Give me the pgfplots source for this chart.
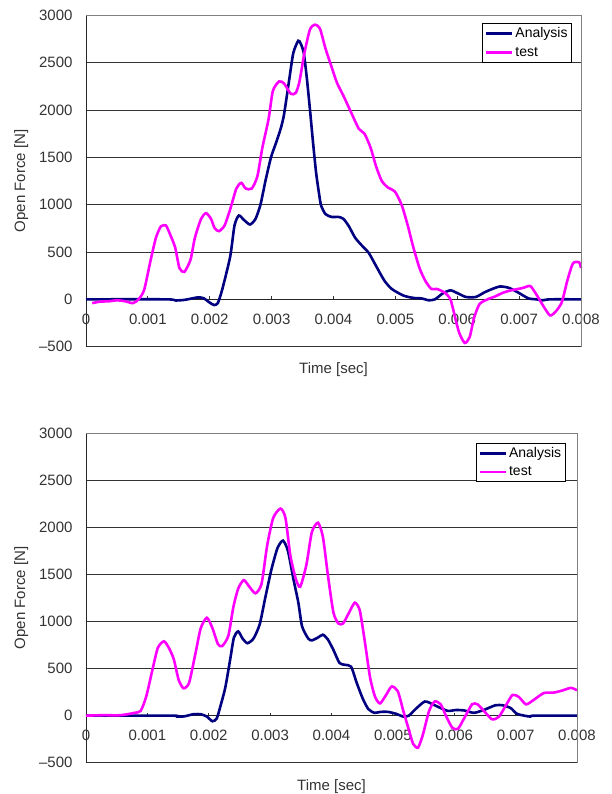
\documentclass[border=0pt]{standalone}
\usepackage{pgfplots}
\pgfplotsset{compat=1.18}
\usepackage{fontspec}
\setmainfont{Liberation Sans}
\definecolor{anavy}{HTML}{000080}
\definecolor{tmag}{HTML}{FF00FF}
\newcommand{\tickfont}{\fontsize{15}{17}\selectfont}
\pgfplotsset{
  myax/.style={
    scale only axis,
    clip=false,
    axis y line*=left,
    axis x line*=middle,
    xmin=0, xmax=0.008, ymin=-500, ymax=3000,
    xtick={0,0.001,0.002,0.003,0.004,0.005,0.006,0.007,0.008},
    xticklabels={0,0.001,0.002,0.003,0.004,0.005,0.006,0.007,0.008},
    ytick={-500,0,500,1000,1500,2000,2500,3000},
    yticklabels={–500,0,500,1000,1500,2000,2500,3000},
    scaled x ticks=false,
    tick align=inside,
    major tick length=3pt,
    tick style={black!80, line width=0.8pt},
    ymajorgrids,
    grid style={black!80, line width=0.8pt},
    axis line style={black!85, line width=0.9pt},
    every tick label/.append style={font=\tickfont, text=black!80},
    xticklabel style={yshift=-11pt},
    yticklabel style={xshift=-10pt},
    xlabel={Time [sec]},
    ylabel={Open Force [N]},
    label style={font=\tickfont, text=black!80},
    legend cell align=left,
    legend image code/.code={\draw[#1] (0pt,0pt) -- (26pt,0pt);},
    legend style={anchor=north east, draw=black, line width=1pt,
      font=\fontsize{14}{16}\selectfont, inner xsep=2pt, inner ysep=2.5pt,
      row sep=3.5pt, nodes={inner sep=2pt}},
  }
}
\begin{document}
\begin{tikzpicture}
\useasboundingbox (0,0) rectangle (611pt,794pt);
% ---------- top chart ----------
\begin{axis}[myax, at={(86pt,447.3pt)}, anchor=south west,
  width=495pt, height=331.5pt,
  xlabel style={at={(axis description cs:0.5,-0.069)}, anchor=center},
  ylabel style={at={(axis description cs:-0.131,0.5)}, anchor=center},
  legend style={at={(rel axis cs:0.982,0.977)}}]
\addplot[anavy, line width=2.6pt, smooth, tension=0.4] coordinates {
(0,0) (0.0013,0) (0.00145,-12) (0.0016,-5) (0.0018,20) (0.0019,12) (0.002,-35) (0.00207,-60) (0.00213,-40) (0.0022,100) (0.00233,450) (0.0024,780) (0.00247,885) (0.00255,840) (0.00265,790) (0.00274,850) (0.00282,1000) (0.0029,1250) (0.00299,1500) (0.00307,1650) (0.00315,1810) (0.0032,1950) (0.00328,2300) (0.00335,2600) (0.00343,2730) (0.00347,2700) (0.00352,2600) (0.00357,2330) (0.00362,2000) (0.00367,1650) (0.00372,1330) (0.00377,1100) (0.0038,990) (0.00387,900) (0.00397,870) (0.00408,870) (0.00416,850) (0.00425,770) (0.00435,650) (0.00447,560) (0.00457,490) (0.00469,350) (0.00482,200) (0.00494,110) (0.00513,40) (0.00529,15) (0.00542,10) (0.00554,-10) (0.00564,0) (0.00576,60) (0.00589,95) (0.00602,60) (0.00614,25) (0.0063,25) (0.00646,80) (0.00668,135) (0.00684,120) (0.00699,70) (0.00715,10) (0.00728,0) (0.00738,-10) (0.0075,0) (0.008,0)
};
\addlegendentry{Analysis}
\addplot[tmag, line width=2.6pt, smooth, tension=0.4] coordinates {
(0.0001,-40) (0.00022,-25) (0.00038,-20) (0.0005,-10) (0.00063,-20) (0.00076,-40) (0.00085,0) (0.00094,100) (0.00104,400) (0.00113,650) (0.00121,770) (0.00129,780) (0.00135,700) (0.00144,550) (0.00151,330) (0.00159,290) (0.00169,420) (0.00176,650) (0.00186,850) (0.00194,910) (0.00202,850) (0.00208,750) (0.00215,720) (0.00224,780) (0.00233,950) (0.00243,1170) (0.00251,1230) (0.00258,1170) (0.00268,1170) (0.00277,1300) (0.00285,1600) (0.00295,1900) (0.00302,2200) (0.00312,2300) (0.0032,2280) (0.00331,2170) (0.00339,2180) (0.00345,2300) (0.00353,2600) (0.00362,2850) (0.0037,2900) (0.00378,2860) (0.00387,2650) (0.00397,2450) (0.00406,2280) (0.00416,2150) (0.00428,1980) (0.00441,1800) (0.0045,1750) (0.0046,1600) (0.00469,1400) (0.00478,1250) (0.00488,1180) (0.00499,1140) (0.0051,1000) (0.0052,780) (0.00529,550) (0.00539,330) (0.00548,200) (0.00558,110) (0.00567,110) (0.0058,70) (0.00589,0) (0.00595,-150) (0.00603,-350) (0.00612,-460) (0.0062,-400) (0.00627,-200) (0.00636,-50) (0.00649,0) (0.00661,30) (0.00674,70) (0.00687,95) (0.00706,120) (0.00718,140) (0.00728,50) (0.0074,-80) (0.0075,-170) (0.00759,-130) (0.00769,-30) (0.00778,200) (0.00787,380) (0.00797,390) (0.008,330)
};
\addlegendentry{test}
\draw[gray, line width=0.9pt] (rel axis cs:0,1) -- (rel axis cs:1,1) -- (rel axis cs:1,0);
\node[anchor=north, yshift=-11pt, inner sep=0.333em, font=\tickfont, text=black!80] at (axis cs:0,0) {0};
\end{axis}
% ---------- bottom chart ----------
\begin{axis}[myax, at={(86pt,31.3pt)}, anchor=south west,
  width=491pt, height=329.4pt,
  xlabel style={at={(axis description cs:0.5,-0.073)}, anchor=center},
  ylabel style={at={(axis description cs:-0.132,0.5)}, anchor=center},
  legend style={at={(rel axis cs:0.977,0.972)}}]
\addplot[anavy, line width=2.6pt, smooth, tension=0.4] coordinates {
(0,0) (0.0014,0) (0.0015,-10) (0.0016,-8) (0.00175,15) (0.00187,15) (0.00197,-10) (0.00206,-60) (0.00213,-30) (0.00219,100) (0.00227,300) (0.00235,600) (0.00241,830) (0.00248,895) (0.00255,820) (0.00263,770) (0.00273,820) (0.00283,970) (0.00292,1250) (0.00302,1550) (0.00312,1780) (0.00321,1860) (0.00329,1750) (0.00338,1450) (0.00346,1200) (0.00352,950) (0.00362,820) (0.00368,800) (0.00378,830) (0.00386,860) (0.00394,810) (0.00403,700) (0.00413,560) (0.00422,540) (0.00432,520) (0.00441,350) (0.00451,180) (0.0046,70) (0.0047,30) (0.0048,40) (0.00492,40) (0.00505,20) (0.00517,-10) (0.00526,0) (0.00537,70) (0.00552,150) (0.00565,120) (0.00578,80) (0.0059,50) (0.00603,60) (0.00616,55) (0.00632,30) (0.00648,60) (0.00667,110) (0.00679,110) (0.00692,80) (0.00702,20) (0.00714,0) (0.00724,-10) (0.0073,0) (0.008,0)
};
\addlegendentry{Analysis}
\addplot[tmag, line width=2.6pt, smooth, tension=0.4] coordinates {
(0,0) (0.0003,5) (0.0005,3) (0.00063,10) (0.00079,30) (0.00089,50) (0.00098,200) (0.00108,480) (0.00117,720) (0.00127,790) (0.00135,720) (0.00143,600) (0.00151,380) (0.00159,290) (0.00168,350) (0.00178,650) (0.00187,930) (0.00197,1040) (0.00206,930) (0.00215,760) (0.00222,740) (0.00232,850) (0.0024,1150) (0.00248,1350) (0.00257,1440) (0.00265,1380) (0.00276,1300) (0.00286,1400) (0.00295,1800) (0.00305,2100) (0.00317,2200) (0.00325,2100) (0.00333,1700) (0.00342,1450) (0.00349,1370) (0.00359,1600) (0.00368,1950) (0.00378,2050) (0.00386,1900) (0.00394,1500) (0.00403,1100) (0.00411,980) (0.00419,980) (0.00429,1100) (0.00438,1200) (0.00446,1120) (0.00454,800) (0.00463,400) (0.00471,200) (0.00479,130) (0.00489,220) (0.00498,310) (0.00508,260) (0.00517,50) (0.00526,-150) (0.00533,-300) (0.00541,-340) (0.00549,-200) (0.00559,50) (0.00568,150) (0.00578,120) (0.00587,-10) (0.00597,-130) (0.00606,-140) (0.00616,-30) (0.00629,120) (0.00638,120) (0.00651,30) (0.00662,-40) (0.00673,-10) (0.00686,130) (0.00695,220) (0.00705,200) (0.00717,120) (0.0073,170) (0.00746,240) (0.00762,245) (0.00775,265) (0.0079,295) (0.008,270)
};
\addlegendentry{test}
\draw[gray, line width=0.9pt] (rel axis cs:0,1) -- (rel axis cs:1,1) -- (rel axis cs:1,0);
\node[anchor=north, yshift=-11pt, inner sep=0.333em, font=\tickfont, text=black!80] at (axis cs:0,0) {0};
\end{axis}
\end{tikzpicture}
\end{document}
